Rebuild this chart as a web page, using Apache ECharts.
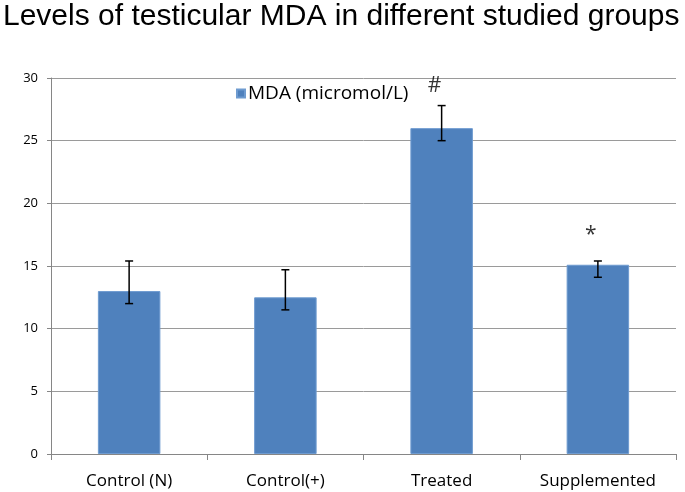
<!DOCTYPE html>
<html>
<head>
<meta charset="utf-8">
<script src="https://cdn.jsdelivr.net/npm/echarts@6/dist/echarts.min.js"></script>
<style>html,body{margin:0;padding:0;background:#fff;}#c{width:685px;height:492px;}</style>
</head>
<body>
<div id="c"></div>
<script>
const categories = ['Control (N)', 'Control(+)', 'Treated', 'Supplemented'];
const mdaValues = [13.0, 12.5, 26.0, 15.1];
const errLow = [12.0, 11.5, 25.0, 14.1];
const errHigh = [15.4, 14.7, 27.8, 15.4];
const markText = ['', '', '#', '*'];
const markY = [null, null, 29.4, 17.5];
const yTicks = [0, 5, 10, 15, 20, 25, 30];

const chart = echarts.init(document.getElementById('c'), null, {renderer: 'canvas'});
const font = '"Open Sans", "Liberation Sans", sans-serif';
chart.setOption({
  animation: false,
  backgroundColor: '#fff',
  title: {
    text: 'Levels of testicular MDA in different studied groups',
    left: -2, top: -3,
    textStyle: {fontFamily: '"Liberation Sans", Arial, sans-serif', fontSize: 30, fontWeight: 'normal', color: '#000'}
  },
  legend: {
    data: ['MDA (micromol/L)'],
    left: 231, top: 79,
    itemWidth: 8, itemHeight: 8, itemGap: 4,
    icon: 'rect',
    textStyle: {fontFamily: font, fontSize: 19, color: '#000', padding: [0, 0, 0, -2]}
  },
  grid: {left: 51, right: 9, top: 78, bottom: 38, containLabel: false},
  xAxis: {
    type: 'category',
    data: categories,
    axisLine: {lineStyle: {color: '#868686', width: 1}},
    axisTick: {show: true, length: 6, lineStyle: {color: '#868686'}},
    axisLabel: {fontFamily: font, fontSize: 17, color: '#000', margin: 19, interval: 0, hideOverlap: false}
  },
  yAxis: {
    type: 'value',
    min: yTicks[0], max: yTicks[yTicks.length - 1], interval: 5,
    axisLine: {show: true, lineStyle: {color: '#868686', width: 1}},
    axisTick: {show: true, length: 4, lineStyle: {color: '#868686'}},
    axisLabel: {fontFamily: font, fontSize: 13, color: '#000', margin: 13},
    splitLine: {lineStyle: {color: '#9a9a9a', width: 1}}
  },
  series: [
    {
      name: 'MDA (micromol/L)',
      type: 'bar',
      data: mdaValues,
      barWidth: '40%',
      itemStyle: {color: '#4F81BD', borderColor: '#6e9bd0', borderWidth: 1}
    },
    {
      name: 'err',
      type: 'custom',
      data: categories.map((c, i) => [i, errLow[i], errHigh[i]]),
      z: 5,
      renderItem: function (params, api) {
        const x = api.value(0);
        const lo = api.coord([x, api.value(1)]);
        const hi = api.coord([x, api.value(2)]);
        const w = 4;
        const st = {stroke: '#000', lineWidth: 1.5};
        return {
          type: 'group',
          children: [
            {type: 'line', shape: {x1: lo[0], y1: lo[1], x2: hi[0], y2: hi[1]}, style: st},
            {type: 'line', shape: {x1: lo[0] - w, y1: lo[1], x2: lo[0] + w, y2: lo[1]}, style: st},
            {type: 'line', shape: {x1: hi[0] - w, y1: hi[1], x2: hi[0] + w, y2: hi[1]}, style: st}
          ]
        };
      }
    },
    {
      name: 'marks',
      type: 'scatter',
      data: markY,
      symbolSize: 0,
      z: 6,
      label: {
        show: true,
        position: 'inside',
        offset: [-7, 0],
        formatter: function (p) { return markText[p.dataIndex]; },
        fontFamily: font, fontSize: 21, color: '#000'
      }
    }
  ]
});
</script>
</body>
</html>
